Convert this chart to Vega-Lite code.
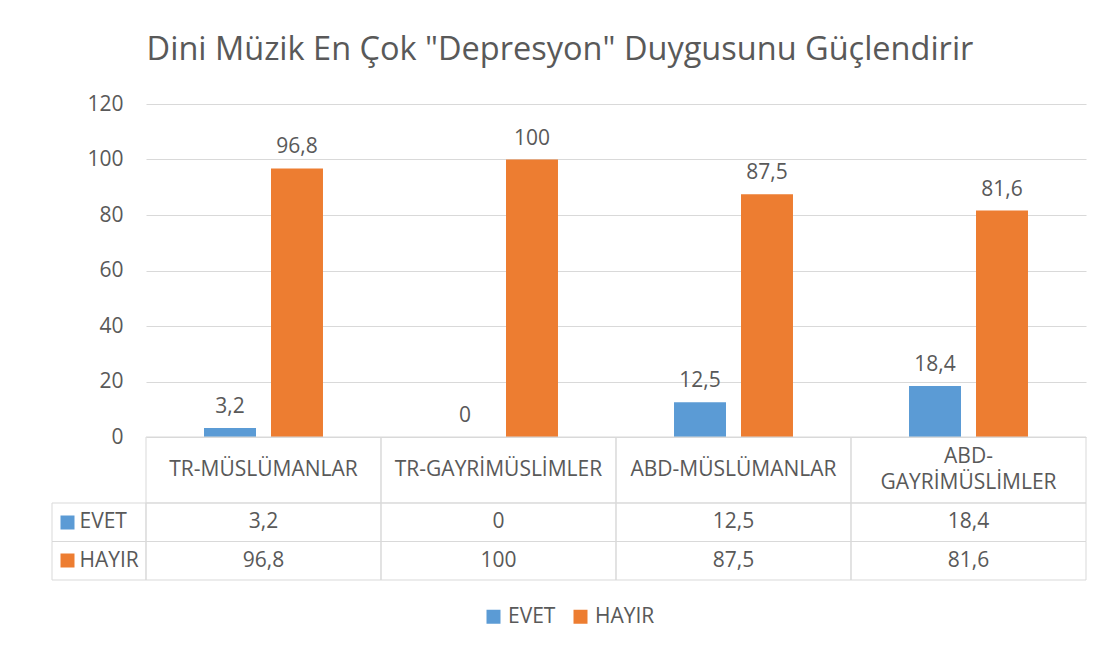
{
  "$schema": "https://vega.github.io/schema/vega-lite/v6.json",
  "padding": {"left": 51, "top": 33, "right": 15, "bottom": 10},
  "background": "white",
  "title": {
    "text": "Dini Müzik En Çok \"Depresyon\" Duygusunu Güçlendirir",
    "fontSize": 32.5,
    "font": "Open Sans",
    "fontWeight": "normal",
    "color": "#595959",
    "anchor": "middle",
    "dx": -9,
    "offset": 27
  },
  "datasets": {
    "veri": [
      {"grup": "TR-MÜSLÜMANLAR", "seri": "EVET", "deger": 3.2},
      {"grup": "TR-MÜSLÜMANLAR", "seri": "HAYIR", "deger": 96.8},
      {"grup": "TR-GAYRİMÜSLİMLER", "seri": "EVET", "deger": 0},
      {"grup": "TR-GAYRİMÜSLİMLER", "seri": "HAYIR", "deger": 100},
      {"grup": "ABD-MÜSLÜMANLAR", "seri": "EVET", "deger": 12.5},
      {"grup": "ABD-MÜSLÜMANLAR", "seri": "HAYIR", "deger": 87.5},
      {"grup": "ABD-GAYRİMÜSLİMLER", "seri": "EVET", "deger": 18.4},
      {"grup": "ABD-GAYRİMÜSLİMLER", "seri": "HAYIR", "deger": 81.6}
    ],
    "gruplar": [
      {"grup": "TR-MÜSLÜMANLAR", "etiket": "TR-MÜSLÜMANLAR", "satir": 1},
      {"grup": "TR-GAYRİMÜSLİMLER", "etiket": "TR-GAYRİMÜSLİMLER", "satir": 1},
      {"grup": "ABD-MÜSLÜMANLAR", "etiket": "ABD-MÜSLÜMANLAR", "satir": 1},
      {"grup": "ABD-GAYRİMÜSLİMLER", "etiket": "ABD-\nGAYRİMÜSLİMLER", "satir": 2}
    ],
    "seriler": [{"seri": "EVET"}, {"seri": "HAYIR"}]
  },
  "columns": 2,
  "spacing": 0,
  "bounds": "flush",
  "resolve": {"scale": {"color": "shared"}, "legend": {"color": "shared"}},
  "concat": [
    {
      "width": 94, "height": 333,
      "data": {"values": []},
      "mark": "point",
      "encoding": {}
    },
    {
      "width": 940, "height": 333,
      "data": {"name": "veri"},
      "encoding": {
        "x": {"field": "grup", "type": "nominal", "sort": null,
              "scale": {"domain": ["TR-MÜSLÜMANLAR", "TR-GAYRİMÜSLİMLER", "ABD-MÜSLÜMANLAR", "ABD-GAYRİMÜSLİMLER"], "paddingInner": 0, "paddingOuter": 0},
              "axis": null},
        "xOffset": {"field": "seri", "type": "nominal",
                    "scale": {"domain": ["EVET", "HAYIR"], "paddingInner": 0.224, "paddingOuter": 0.866}},
        "y": {"field": "deger", "type": "quantitative",
              "scale": {"domain": [0, 120]},
              "axis": {"values": [0, 20, 40, 60, 80, 100, 120], "title": null, "domain": false, "ticks": false,
                       "labelPadding": 23, "labelFontSize": 21, "labelColor": "#595959", "labelFont": "Open Sans",
                       "gridColor": "#d9d9d9", "gridWidth": 1}}
      },
      "layer": [
        {
          "mark": {"type": "bar"},
          "encoding": {
            "color": {"field": "seri", "type": "nominal",
                      "scale": {"domain": ["EVET", "HAYIR"], "range": ["#5b9bd5", "#ed7d31"]},
                      "legend": {"orient": "bottom", "direction": "horizontal", "title": null,
                                 "symbolType": "square", "symbolSize": 196, "symbolStrokeWidth": 0,
                                 "labelFontSize": 21, "labelColor": "#595959", "labelFont": "Open Sans",
                                 "labelOffset": 4, "columnPadding": 14, "offset": 25}}
          }
        },
        {
          "mark": {"type": "text", "baseline": "alphabetic", "dy": -15, "fontSize": 21, "color": "#595959", "font": "Open Sans"},
          "encoding": {"text": {"field": "deger", "type": "quantitative", "format": ".1~f"}}
        }
      ]
    },
    {
      "width": 94, "height": 66,
      "data": {"values": []},
      "mark": "point",
      "encoding": {}
    },
    {
      "width": 940, "height": 66,
      "data": {"name": "gruplar"},
      "encoding": {
        "x": {"field": "grup", "type": "nominal", "sort": null,
              "scale": {"domain": ["TR-MÜSLÜMANLAR", "TR-GAYRİMÜSLİMLER", "ABD-MÜSLÜMANLAR", "ABD-GAYRİMÜSLİMLER"], "paddingInner": 0, "paddingOuter": 0},
              "axis": null}
      },
      "layer": [
        {"mark": {"type": "rect", "filled": false, "stroke": "#d9d9d9", "strokeWidth": 1}},
        {"transform": [{"filter": "datum.satir == 1"}],
         "mark": {"type": "text", "fontSize": 21, "color": "#595959", "font": "Open Sans", "baseline": "middle"},
         "encoding": {"text": {"field": "etiket", "type": "nominal"}}},
        {"transform": [{"filter": "datum.satir == 2"}],
         "mark": {"type": "text", "fontSize": 21, "color": "#595959", "font": "Open Sans", "baseline": "middle", "lineBreak": "\n", "lineHeight": 26, "dy": -13},
         "encoding": {"text": {"field": "etiket", "type": "nominal"}}}
      ]
    },
    {
      "width": 94, "height": 77,
      "data": {"name": "seriler"},
      "mark": {"type": "rect", "filled": false, "stroke": "#d9d9d9", "strokeWidth": 1},
      "encoding": {
        "y": {"field": "seri", "type": "nominal", "sort": null,
              "scale": {"domain": ["EVET", "HAYIR"], "paddingInner": 0, "paddingOuter": 0},
              "axis": {"title": null, "orient": "left", "domain": false, "offset": -8,
                       "ticks": true, "tickSize": -14, "tickWidth": 14, "tickCap": "butt",
                       "tickColor": {"expr": "datum.value === 'EVET' ? '#5b9bd5' : '#ed7d31'"},
                       "labelAlign": "left", "labelBaseline": "middle", "labelPadding": -5,
                       "labelFontSize": 21, "labelColor": "#595959", "labelFont": "Open Sans"}}
      }
    },
    {
      "width": 940, "height": 77,
      "data": {"name": "veri"},
      "encoding": {
        "x": {"field": "grup", "type": "nominal", "sort": null,
              "scale": {"domain": ["TR-MÜSLÜMANLAR", "TR-GAYRİMÜSLİMLER", "ABD-MÜSLÜMANLAR", "ABD-GAYRİMÜSLİMLER"], "paddingInner": 0, "paddingOuter": 0},
              "axis": null},
        "y": {"field": "seri", "type": "nominal", "sort": null,
              "scale": {"domain": ["EVET", "HAYIR"], "paddingInner": 0, "paddingOuter": 0},
              "axis": null}
      },
      "layer": [
        {"mark": {"type": "rect", "filled": false, "stroke": "#d9d9d9", "strokeWidth": 1}},
        {"mark": {"type": "text", "fontSize": 21, "color": "#595959", "font": "Open Sans", "baseline": "middle"},
         "encoding": {"text": {"field": "deger", "type": "quantitative", "format": ".1~f"}}}
      ]
    }
  ],
  "config": {
    "view": {"stroke": null},
    "font": "Open Sans",
    "locale": {"number": {"decimal": ",", "thousands": ".", "grouping": [3], "currency": ["", " TL"]}},
    "legend": {"layout": {"bottom": {"anchor": "middle"}}}
  }
}
